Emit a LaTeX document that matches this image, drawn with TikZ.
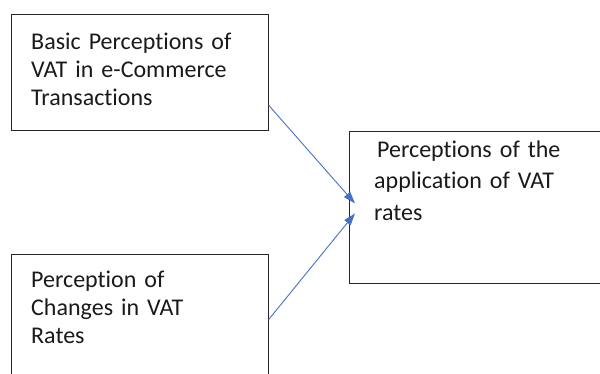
\documentclass[tikz,border=0pt]{standalone}
\usepackage{fontspec}
\setmainfont[Ligatures={NoCommon,NoDiscretionary}]{Carlito}
\usepackage{xcolor}
\definecolor{ink}{HTML}{1A1A1A}
\definecolor{frame}{HTML}{262626}
\definecolor{link}{HTML}{4472C4}
\usepackage{tikz}
\usetikzlibrary{arrows.meta,positioning,calc}

\begin{document}
\begin{tikzpicture}[
  x=1pt,y=1pt,
  box/.style={draw=frame,line width=0.8pt,anchor=north west,inner sep=0pt},
  txt/.style={anchor=base west,align=left,inner sep=0pt,text=ink,
    font=\fontsize{24}{28.4}\selectfont},
  arr/.style={-{Triangle[length=12pt,width=8pt]},link,line width=0.9pt}]
\useasboundingbox (0,0) rectangle (600,-373);
\clip (0,0) rectangle (600,-373);
% boxes
\node[box,minimum width=257pt,minimum height=116pt] (basic) at (11,-14) {};
\node[box,minimum width=257pt,minimum height=130pt] (changes) at (11,-254) {};
\node[box,minimum width=261pt,minimum height=152pt] (rates) at (349,-131) {};
% texts
\node[txt,text width=230pt] (basictext) at (31,-49)
  {Basic Perceptions of\\VAT in e-Commerce\\Transactions};
\node[txt,text width=230pt] (changestext) at (31,-287)
  {Perception of\\Changes in VAT\\Rates};
\node[txt,text width=230pt,font=\fontsize{24}{31.5}\selectfont] (ratestext) at (374,-157)
  {\hspace*{3pt}Perceptions of the\\application of VAT\\rates};
% links
\draw[arr] ([yshift=-33pt]basic.east) -- ([xshift=6pt,yshift=4pt]rates.west);
\draw[arr] (changes.east) -- ([xshift=6pt,yshift=-6pt]rates.west);
\end{tikzpicture}
\end{document}
